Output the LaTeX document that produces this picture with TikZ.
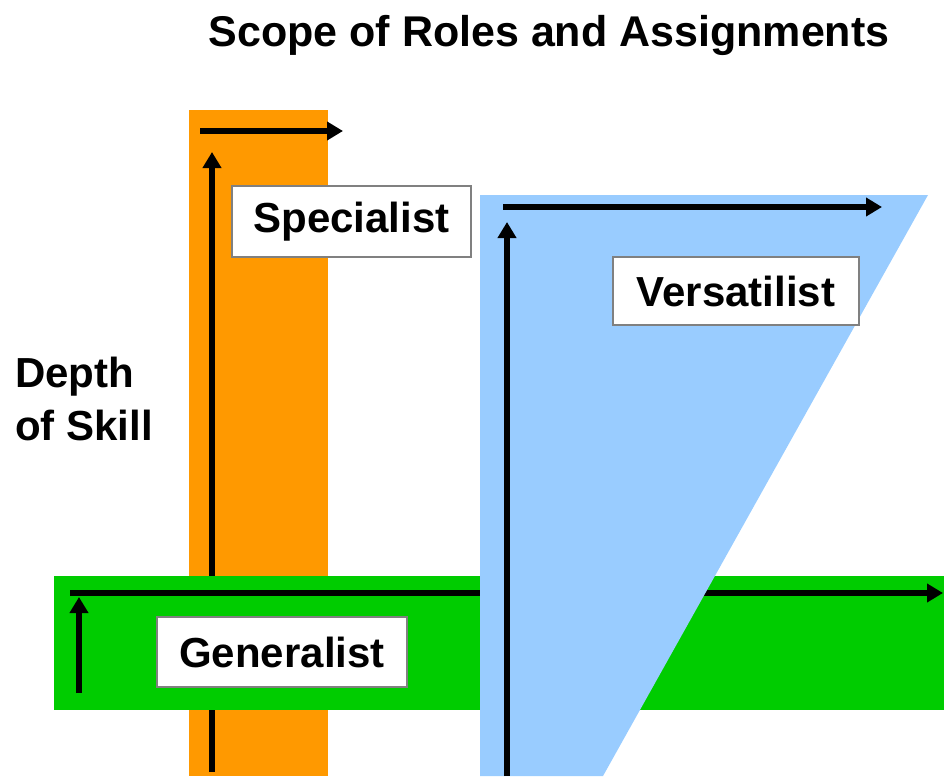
\documentclass[tikz,border=0pt]{standalone}
\usepackage{fontspec}
\setmainfont{Liberation Sans}
\usetikzlibrary{arrows.meta}

\definecolor{specorange}{HTML}{FF9900}
\definecolor{gengreen}{HTML}{00CC00}
\definecolor{versblue}{HTML}{99CCFF}

\tikzset{
  rolebox/.style={draw=gray, line width=2.5pt, fill=white, inner sep=0pt,
    font=\bfseries\fontsize{42}{48}\selectfont},
  bigtext/.style={font=\bfseries\fontsize{42}{48}\selectfont, inner sep=0pt},
  skillarrow/.style={line width=6pt, -{Triangle[length=16pt,width=18pt]}},
}

\begin{document}
\begin{tikzpicture}[x=1pt,y=-1pt]
 \useasboundingbox (0,0) rectangle (944,776);

 \node[bigtext, font=\bfseries\fontsize{43}{48}\selectfont, anchor=base] (title) at (549,47) {Scope of Roles and Assignments};
 \node[bigtext, anchor=base west] (depth) at (15,387) {Depth};
 \node[bigtext, anchor=base west] (skill) at (15,440) {of Skill};

% Specialist: narrow and deep
 \fill[specorange] (189,110) rectangle (328,776);
 \draw[skillarrow] (200,131) -- (343,131); % breadth
 \draw[skillarrow] (212,772) -- (212,152); % depth

% Generalist: broad and shallow
 \fill[gengreen] (54,576) rectangle (944,710);
 \draw[skillarrow] (70,593) -- (943,593); % breadth
 \draw[skillarrow] (79,693) -- (79,597);  % depth

% Versatilist: broad and deep
 \fill[versblue] (480,195) -- (928,195) -- (603,776) -- (480,776) -- cycle;
 \draw[skillarrow] (503,207) -- (882,207); % breadth
 \draw[skillarrow] (507,776) -- (507,222); % depth

 \node[rolebox, minimum width=239pt, minimum height=71pt] (spec) at (351.5,221.5) {Specialist};
 \node[rolebox, minimum width=246pt, minimum height=68pt] (vers) at (736,291) {Versatilist};
 \node[rolebox, minimum width=250pt, minimum height=70pt] (gen) at (282,652) {Generalist};

\end{tikzpicture}
\end{document}
